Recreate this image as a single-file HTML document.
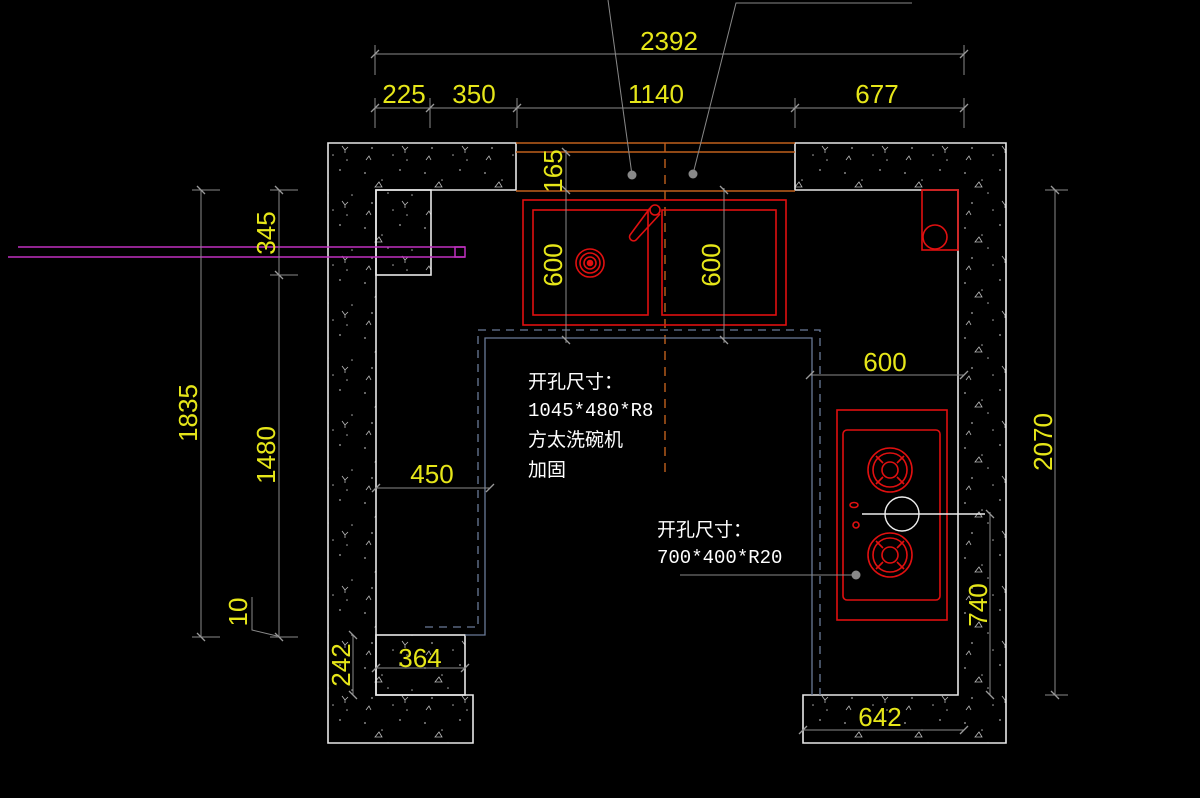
<!DOCTYPE html>
<html><head><meta charset="utf-8"><style>
html,body{margin:0;padding:0;background:#000;}
svg{display:block}
.d{stroke:#8a8a8a;stroke-width:1;fill:none}
.t{fill:#e6e619;font-family:"Liberation Sans Narrow","Liberation Sans",sans-serif;font-size:26px}
.c{fill:#fff;font-family:"Liberation Mono","Noto Sans CJK SC",monospace;font-size:19px}
.w{stroke:#e8e8e8;stroke-width:1.6;fill:none}
.r{stroke:#e01010;stroke-width:1.6;fill:none}
</style></head><body>
<svg width="1200" height="798" viewBox="0 0 1200 798" xmlns="http://www.w3.org/2000/svg">
<defs>
<pattern id="sp" width="60" height="55" patternUnits="userSpaceOnUse">
<g fill="#aaa"><circle cx="5" cy="8" r="0.9"/><circle cx="22" cy="15" r="0.8"/><circle cx="40" cy="5" r="0.9"/><circle cx="52" cy="30" r="0.8"/><circle cx="12" cy="38" r="0.9"/><circle cx="33" cy="45" r="0.8"/><circle cx="47" cy="50" r="0.8"/><circle cx="28" cy="28" r="0.8"/></g>
<g stroke="#bbb" stroke-width="0.8" fill="none"><path d="M15 22l4 -5 3 5z"/><path d="M42 36l3 4M45 40l3-3M45 40v3"/><path d="M6 50l3-4 2 4"/></g>
</pattern>
</defs>
<rect width="1200" height="798" fill="#000"/>
<g fill="url(#sp)">
<rect x="328" y="143" width="188" height="47"/>
<rect x="328" y="190" width="48" height="553"/>
<rect x="376" y="190" width="55" height="85"/>
<rect x="376" y="635" width="89" height="60"/>
<rect x="376" y="695" width="97" height="48"/>
<rect x="795" y="143" width="211" height="47"/>
<rect x="958" y="190" width="48" height="553"/>
<rect x="803" y="695" width="155" height="48"/>
</g>
<g class="w">
<path d="M516 143H328V743H473V695H376V190H516Z"/>
<rect x="376" y="190" width="55" height="85"/>
<rect x="376" y="635" width="89" height="60"/>
<path d="M795 143H1006V743H803V695H958V190H795Z"/>
</g>
<g stroke="#c0601c" stroke-width="1.4">
<line x1="516" y1="143" x2="795" y2="143"/><line x1="516" y1="152" x2="795" y2="152"/><line x1="516" y1="191" x2="795" y2="191"/>
<line x1="665" y1="143" x2="665" y2="478" stroke-dasharray="9 7"/>
</g>
<g stroke="#c030c0" stroke-width="1.5" fill="none">
<line x1="18" y1="247" x2="465" y2="247"/><line x1="8" y1="257" x2="465" y2="257"/><rect x="455" y="247" width="10" height="10"/>
</g>
<path d="M465 635H485V338H812V695" stroke="#6a7a98" stroke-width="1.3" fill="none"/>
<path d="M425 627H478V330H820V695" stroke="#6a7a98" stroke-width="1.3" fill="none" stroke-dasharray="8 6"/>
<g class="r">
<rect x="523" y="200" width="263" height="125"/>
<rect x="533" y="210" width="115" height="105"/>
<rect x="662" y="210" width="114" height="105"/>
<circle cx="590" cy="263" r="14"/><circle cx="590" cy="263" r="10"/><circle cx="590" cy="263" r="6"/><circle cx="590" cy="263" r="2.5" fill="#e01010"/>
<circle cx="655" cy="210" r="5"/><path d="M650 208 L630 235 a4 4 0 0 0 6 5 L660 214"/>
<rect x="922" y="190" width="36" height="60"/><circle cx="935" cy="237" r="12"/>
</g>
<g class="r">
<rect x="837" y="410" width="110" height="210"/>
<rect x="843" y="430" width="97" height="170" rx="4"/>
<circle cx="890" cy="470" r="22"/><circle cx="890" cy="470" r="17"/><circle cx="890" cy="470" r="8"/>
<path d="M876 456l7 7M904 456l-7 7M876 484l7-7M904 484l-7-7"/>
<circle cx="890" cy="555" r="22"/><circle cx="890" cy="555" r="17"/><circle cx="890" cy="555" r="8"/>
<path d="M876 541l7 7M904 541l-7 7M876 569l7-7M904 569l-7-7"/>
<ellipse cx="854" cy="505" rx="4" ry="2.5"/><ellipse cx="856" cy="525" rx="3" ry="3"/>
</g>
<circle cx="902" cy="514" r="17" stroke="#eee" stroke-width="1.4" fill="none"/>
<line x1="862" y1="514" x2="985" y2="514" stroke="#eee" stroke-width="1.4"/>
<line x1="680" y1="575" x2="856" y2="575" stroke="#888"/>
<circle cx="856" cy="575" r="4.5" fill="#888"/>
<g stroke="#888" fill="none"><path d="M608 0L632 175"/><path d="M912 3H736L693 174"/></g>
<circle cx="632" cy="175" r="4.5" fill="#888"/><circle cx="693" cy="174" r="4.5" fill="#888"/>
<g class="d">
<line x1="375" y1="54" x2="964" y2="54"/><line x1="375" y1="45" x2="375" y2="75"/><line x1="964" y1="45" x2="964" y2="75"/>
<line x1="375" y1="108" x2="964" y2="108"/>
<line x1="375" y1="98" x2="375" y2="128"/><line x1="430" y1="98" x2="430" y2="128"/><line x1="517" y1="98" x2="517" y2="128"/><line x1="795" y1="98" x2="795" y2="128"/><line x1="964" y1="98" x2="964" y2="128"/>
<line x1="566" y1="150" x2="566" y2="343"/><line x1="724" y1="188" x2="724" y2="343"/>
<line x1="810" y1="375" x2="964" y2="375"/>
<line x1="376" y1="488" x2="490" y2="488"/>
<line x1="376" y1="668" x2="465" y2="668"/>
<line x1="803" y1="730" x2="964" y2="730"/>
<line x1="353" y1="635" x2="353" y2="695"/>
<line x1="990" y1="512" x2="990" y2="695"/>
<line x1="1055" y1="190" x2="1055" y2="695"/><line x1="1045" y1="190" x2="1068" y2="190"/><line x1="1045" y1="695" x2="1068" y2="695"/>
<line x1="201" y1="190" x2="201" y2="637"/><line x1="192" y1="190" x2="220" y2="190"/><line x1="192" y1="637" x2="220" y2="637"/>
<line x1="279" y1="190" x2="279" y2="637"/><line x1="270" y1="190" x2="298" y2="190"/><line x1="270" y1="275" x2="298" y2="275"/><line x1="270" y1="637" x2="298" y2="637"/>
<path d="M252 597V630L277 636"/>
</g>
<g stroke="#999" stroke-width="1.3">
<path d="M371 58l8-8M371 112l8-8M426 112l8-8M513 112l8-8M791 112l8-8M960 112l8-8M960 58l8-8"/>
<path d="M562 148l8 8M562 186l8 8M562 336l8 8M720 186l8 8M720 336l8 8"/>
<path d="M197 186l8 8M197 633l8 8M275 186l8 8M275 271l8 8M275 633l8 8M1051 186l8 8M1051 691l8 8"/>
<path d="M806 379l8-8M960 379l8-8M372 492l8-8M486 492l8-8M372 672l8-8M461 672l8-8M799 734l8-8M960 734l8-8"/>
<path d="M349 631l8 8M349 691l8 8M986 510l8 8M986 691l8 8"/>
</g>
<g class="t">
<text x="669" y="50" text-anchor="middle">2392</text>
<text x="404" y="103" text-anchor="middle">225</text>
<text x="474" y="103" text-anchor="middle">350</text>
<text x="656" y="103" text-anchor="middle">1140</text>
<text x="877" y="103" text-anchor="middle">677</text>
<text x="885" y="371" text-anchor="middle">600</text>
<text x="432" y="483" text-anchor="middle">450</text>
<text x="420" y="667" text-anchor="middle">364</text>
<text x="880" y="726" text-anchor="middle">642</text>
<text transform="translate(562,171) rotate(-90)" text-anchor="middle">165</text>
<text transform="translate(562,265) rotate(-90)" text-anchor="middle">600</text>
<text transform="translate(720,265) rotate(-90)" text-anchor="middle">600</text>
<text transform="translate(197,413) rotate(-90)" text-anchor="middle">1835</text>
<text transform="translate(275,455) rotate(-90)" text-anchor="middle">1480</text>
<text transform="translate(275,233) rotate(-90)" text-anchor="middle">345</text>
<text transform="translate(247,612) rotate(-90)" text-anchor="middle">10</text>
<text transform="translate(350,665) rotate(-90)" text-anchor="middle">242</text>
<text transform="translate(987,605) rotate(-90)" text-anchor="middle">740</text>
<text transform="translate(1052,442) rotate(-90)" text-anchor="middle">2070</text>
</g>
<g class="c">
<text x="528" y="388">开孔尺寸：</text>
<text x="528" y="416">1045*480*R8</text>
<text x="528" y="446">方太洗碗机</text>
<text x="528" y="476">加固</text>
<text x="657" y="536">开孔尺寸：</text>
<text x="657" y="563">700*400*R20</text>
</g>
</svg>
</body></html>
